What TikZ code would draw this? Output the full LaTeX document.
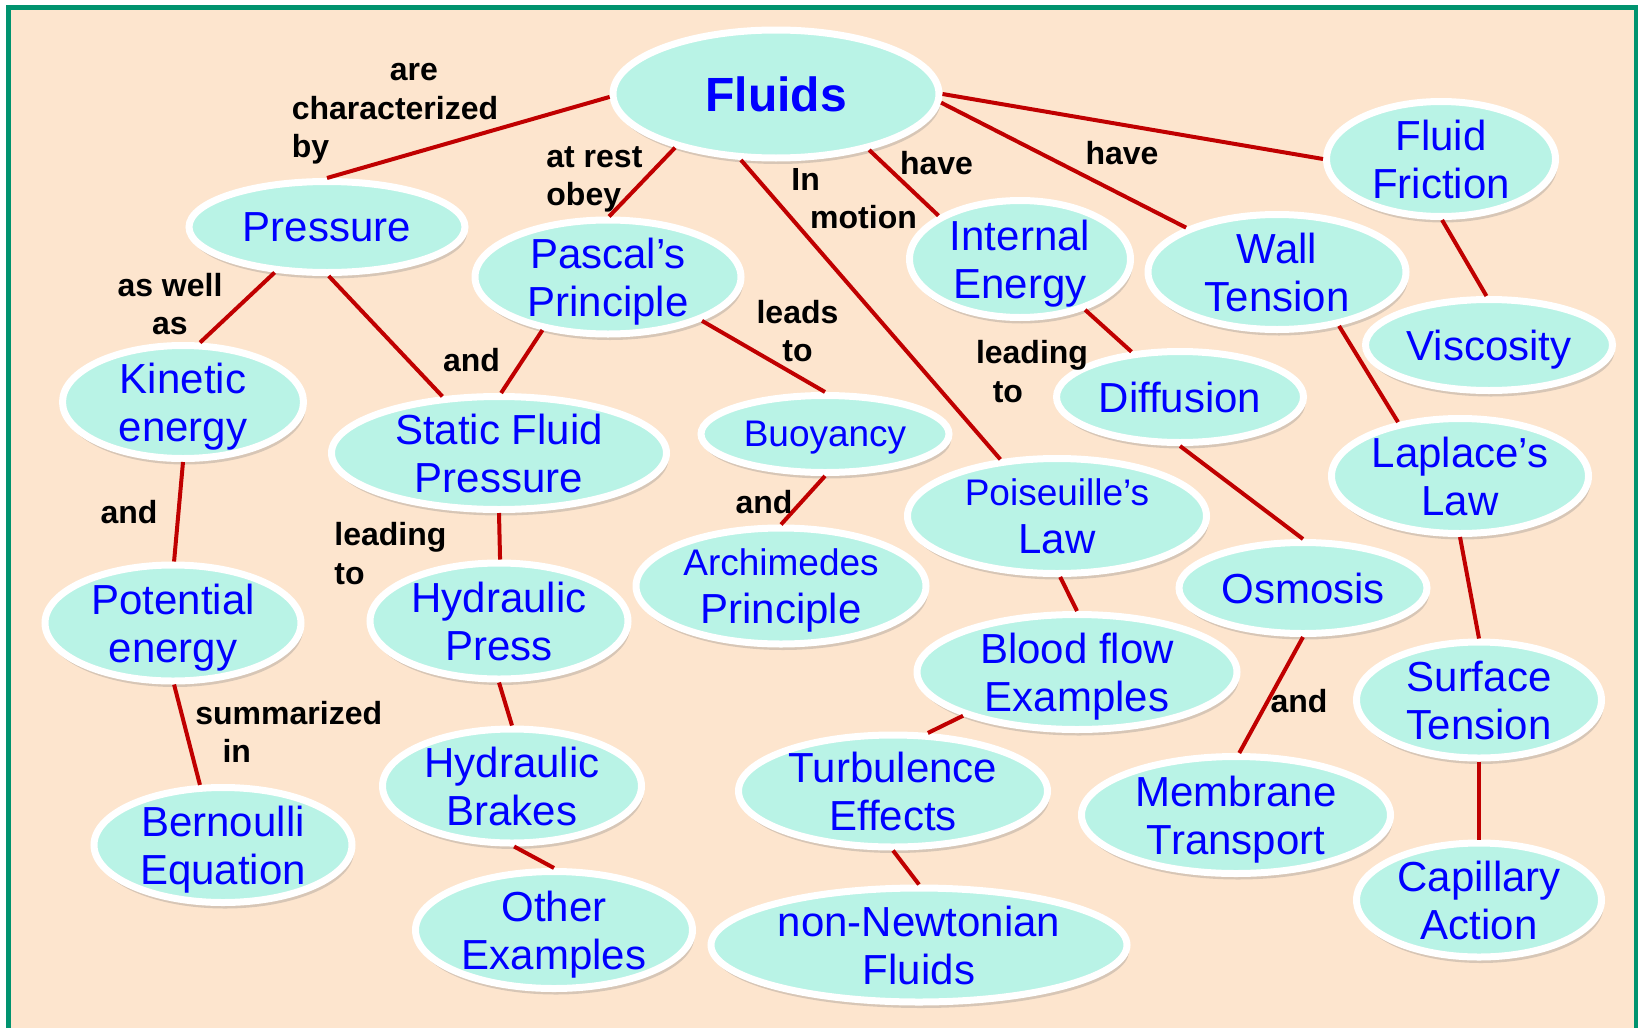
\documentclass[tikz,border=0pt]{standalone}
\usepackage{fontspec}
\setmainfont{Liberation Sans}
\usetikzlibrary{shapes.geometric,shadows}
\definecolor{peach}{HTML}{FDE5CE}
\definecolor{framegreen}{HTML}{00936F}
\definecolor{aqua}{HTML}{B9F3E6}
\definecolor{linkred}{HTML}{C00000}
\definecolor{textblue}{HTML}{0000FF}
\newcommand{\smalltxt}{\fontsize{18.5}{22}\selectfont}
\tikzset{
  concept/.style={ellipse, draw=white, line width=3.5pt, fill=aqua, text=textblue,
    align=center, inner xsep=0pt, inner ysep=-2pt, text depth=0pt,
    font=\fontsize{21}{24}\selectfont,
    drop shadow={shadow xshift=1pt, shadow yshift=-3pt, opacity=0.3}},
  esize/.style 2 args={minimum width=#1, minimum height=#2},
  link/.style={linkred, line width=2pt},
  linklabel/.style={font=\bfseries\fontsize{16}{19.3}\selectfont, inner sep=0pt}
}
\begin{document}
\begin{tikzpicture}[x=0.5pt,y=-0.5pt]
  \useasboundingbox (0,0) rectangle (1638,1028);
  % background and frame
  \fill[white] (0,0) rectangle (1638,1028);
  \fill[peach] (9,8) rectangle (1636,1028);
  \draw[framegreen,line width=2.5pt] (8.5,1028) -- (8.5,7.5) -- (1636.5,7.5) -- (1636.5,1028);
  % concepts
  \node[concept,esize={163pt}{64pt},font=\bfseries\fontsize{24}{28}\selectfont] (fluids) at (776,94) {Fluids};
  \node[concept,esize={138pt}{45.5pt}] (pressure) at (327,227) {Pressure};
  \node[concept,esize={133pt}{57pt}] (pascal) at (608,277) {Pascal’s\\Principle};
  \node[concept,esize={110.5pt}{58.5pt}] (internal) at (1020,259) {Internal\\Energy};
  \node[concept,esize={129pt}{57.5pt}] (wall) at (1277,272) {Wall\\Tension};
  \node[concept,esize={114.5pt}{57.5pt}] (friction) at (1441,159) {Fluid\\Friction};
  \node[concept,esize={123.5pt}{45.5pt}] (viscosity) at (1489,345) {Viscosity};
  \node[concept,esize={120.5pt}{56.5pt}] (kinetic) at (183,402) {Kinetic\\energy};
  \node[concept,esize={167.5pt}{56.5pt}] (static) at (499,453) {Static Fluid\\Pressure};
  \node[concept,esize={124pt}{38.5pt},font=\smalltxt] (buoyancy) at (825,434) {Buoyancy};
  \node[concept,esize={123.5pt}{45.5pt}] (diffusion) at (1180,397) {Diffusion};
  \node[concept,esize={128.5pt}{57.5pt}] (laplace) at (1460,476) {Laplace’s\\Law};
  \node[concept,esize={149.5pt}{57.5pt}] (poiseuille) at (1057,516) {{\smalltxt Poiseuille’s}\\Law};
  \node[concept,esize={124pt}{45.5pt}] (osmosis) at (1303,588) {Osmosis};
  \node[concept,esize={128pt}{58pt}] (potential) at (173,623) {Potential\\energy};
  \node[concept,esize={129pt}{58pt}] (press) at (499,621) {Hydraulic\\Press};
  \node[concept,esize={145pt}{58pt}] (archimedes) at (781,586) {{\smalltxt Archimedes}\\Principle};
  \node[concept,esize={160pt}{57.5pt}] (blood) at (1077,672) {Blood flow\\Examples};
  \node[concept,esize={122.5pt}{58pt}] (surface) at (1479,700) {Surface\\Tension};
  \node[concept,esize={154.5pt}{56pt}] (turbulence) at (893,791) {Turbulence\\Effects};
  \node[concept,esize={154.5pt}{58.5pt}] (membrane) at (1236,815) {Membrane\\Transport};
  \node[concept,esize={129pt}{57.5pt}] (bernoulli) at (223,845) {Bernoulli\\Equation};
  \node[concept,esize={129.5pt}{57pt}] (brakes) at (512,786) {Hydraulic\\Brakes};
  \node[concept,esize={138.5pt}{58.5pt}] (other) at (554,930) {Other\\Examples};
  \node[concept,esize={208pt}{57pt}] (nonnewton) at (919,945) {non-Newtonian\\Fluids};
  \node[concept,esize={122.5pt}{57pt}] (capillary) at (1479,900) {Capillary\\Action};
  % links
  \foreach \a/\b in {fluids.181/pressure.90, fluids.208/pascal.89, fluids.242/poiseuille.135,
      fluids.329/internal.152, fluids.357/wall.154, fluids.0/friction.180,
      pressure.221/kinetic.74, pressure.272/static.135, pascal.219/static.88,
      pascal.335/buoyancy.90, kinetic.270/potential.89, static.270/press.89,
      buoyancy.270/archimedes.90, internal.322/diffusion.137, wall.319/laplace.139,
      friction.271/viscosity.93, diffusion.270/osmosis.90, poiseuille.273/blood.90,
      potential.271/bernoulli.111, press.270/brakes.90, laplace.270/surface.90,
      osmosis.270/membrane.87, blood.201/turbulence.59, brakes.272/other.90,
      turbulence.270/nonnewton.90, surface.270/capillary.90}
    { \draw[link] (\a) -- (\b); }
  % link labels
  \node[linklabel,align=left] (charby) at (395,114) {\hspace*{49pt}are\\characterized\\by};
  \node[linklabel,align=left,anchor=west] (atrest) at (546,179.5) {at rest\\obey};
  \node[linklabel,align=left,anchor=west] (inmotion) at (791,198.5) {In\\\hspace*{9.4pt}motion};
  \node[linklabel] (have1) at (936.5,163) {have};
  \node[linklabel] (have2) at (1122,153.5) {have};
  \node[linklabel,align=center] (aswell) at (170,304) {as well\\as};
  \node[linklabel] (and1) at (471.5,360) {and};
  \node[linklabel,align=center] (leadsto) at (797.5,331) {leads\\to};
  \node[linklabel] (and2) at (129,512) {and};
  \node[linklabel,align=left,anchor=west] (leading1) at (334,553.6) {leading\\to};
  \node[linklabel] (and3) at (764,502.5) {and};
  \node[linklabel,align=left,anchor=west] (leading2) at (975.6,371.4) {leading\\\hspace*{8.4pt}to};
  \node[linklabel,align=left,anchor=west] (summ) at (195,731.7) {summarized\\\hspace*{13.6pt}in};
  \node[linklabel] (and4) at (1299,701) {and};
\end{tikzpicture}
\end{document}
